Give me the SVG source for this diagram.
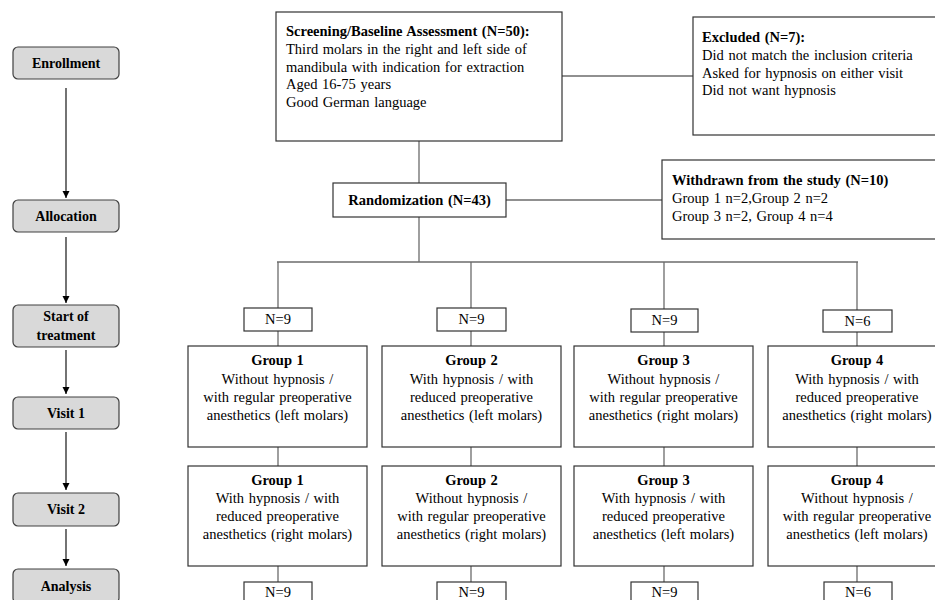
<svg xmlns="http://www.w3.org/2000/svg" width="935" height="600" viewBox="0 0 935 600">
<defs>
<marker id="arr" markerWidth="8" markerHeight="8" refX="7" refY="4" orient="auto" markerUnits="userSpaceOnUse">
<path d="M0,0.5 L7,4 L0,7.5 Z" fill="#000"/>
</marker>
<style>
text{font-family:"Liberation Serif","Times New Roman",serif;font-size:14.5px;word-spacing:1px;fill:#000}
.b{font-weight:bold}
.c{text-anchor:middle}
.stage rect{fill:#d9d9d9;stroke:#404040;stroke-width:1.2}
.stage text{font-weight:bold;font-size:14px;word-spacing:0;text-anchor:middle}
.box{fill:#fff;stroke:#333;stroke-width:1.2}
.con line{stroke:#6b6b6b;stroke-width:1.3}
.arw line{stroke:#000;stroke-width:1.1}
</style>
</defs>
<rect width="935" height="600" fill="#fff"/>

<g id="connectors">
<g class="arw">
<line x1="66" y1="88" x2="66" y2="198" marker-end="url(#arr)"/>
<line x1="66" y1="237" x2="66" y2="303" marker-end="url(#arr)"/>
<line x1="66" y1="350" x2="66" y2="394" marker-end="url(#arr)"/>
<line x1="66" y1="432" x2="66" y2="490" marker-end="url(#arr)"/>
<line x1="66" y1="529" x2="66" y2="566" marker-end="url(#arr)"/>
</g>
<g class="con">
<line x1="562" y1="76" x2="693" y2="76"/>
<line x1="419" y1="141" x2="419" y2="183"/>
<line x1="506" y1="200" x2="662" y2="200"/>
<line x1="419" y1="217" x2="419" y2="262"/>
<line x1="277" y1="262" x2="858" y2="262"/>
<line x1="278" y1="262" x2="278" y2="308"/>
<line x1="471" y1="262" x2="471" y2="308"/>
<line x1="664" y1="262" x2="664" y2="309"/>
<line x1="857" y1="262" x2="857" y2="310"/>
<line x1="278" y1="331" x2="278" y2="346"/>
<line x1="471" y1="331" x2="471" y2="346"/>
<line x1="664" y1="332" x2="664" y2="346"/>
<line x1="857" y1="332" x2="857" y2="346"/>
<line x1="278" y1="447" x2="278" y2="466"/>
<line x1="471" y1="447" x2="471" y2="466"/>
<line x1="664" y1="447" x2="664" y2="466"/>
<line x1="857" y1="447" x2="857" y2="466"/>
<line x1="278" y1="566" x2="278" y2="582"/>
<line x1="471" y1="566" x2="471" y2="582"/>
<line x1="664" y1="566" x2="664" y2="582"/>
<line x1="857" y1="566" x2="857" y2="582"/>
</g>
</g>

<g id="enrollment" class="stage"><rect x="13" y="47" width="106" height="32" rx="5"/><text x="66" y="68">Enrollment</text></g>
<g id="allocation" class="stage"><rect x="13" y="200" width="106" height="32" rx="5"/><text x="66" y="221">Allocation</text></g>
<g id="start" class="stage"><rect x="13" y="305" width="106" height="42" rx="5"/><text x="66" y="321">Start of</text><text x="66" y="340">treatment</text></g>
<g id="visit1" class="stage"><rect x="13" y="397" width="106" height="32" rx="5"/><text x="66" y="418">Visit 1</text></g>
<g id="visit2" class="stage"><rect x="13" y="493" width="106" height="33" rx="5"/><text x="66" y="514">Visit 2</text></g>
<g id="analysis" class="stage"><rect x="13" y="569" width="106" height="34" rx="5"/><text x="66" y="591">Analysis</text></g>

<g id="screening">
<rect class="box" x="276" y="12" width="286" height="129"/>
<text x="286" y="36" class="b">Screening/Baseline Assessment (N=50):</text>
<text x="286" y="54">Third molars in the right and left side of</text>
<text x="286" y="72">mandibula with indication for extraction</text>
<text x="286" y="89">Aged 16-75 years</text>
<text x="286" y="107">Good German language</text>
</g>

<g id="excluded">
<rect class="box" x="693" y="17" width="250" height="118"/>
<text x="702" y="42" class="b">Excluded (N=7):</text>
<text x="702" y="60">Did not match the inclusion criteria</text>
<text x="702" y="78">Asked for hypnosis on either visit</text>
<text x="702" y="95">Did not want hypnosis</text>
</g>

<g id="randomization">
<rect class="box" x="333" y="183" width="173" height="34"/>
<text x="419.5" y="205" class="b c">Randomization (N=43)</text>
</g>

<g id="withdrawn">
<rect class="box" x="662" y="160" width="280" height="79"/>
<text x="672" y="185" class="b">Withdrawn from the study (N=10)</text>
<text x="672" y="203">Group 1 n=2,Group 2 n=2</text>
<text x="672" y="221">Group 3 n=2, Group 4 n=4</text>
</g>

<g id="n1top"><rect class="box" x="244" y="308" width="68" height="23"/><text x="278" y="324" class="c">N=9</text></g>
<g id="n2top"><rect class="box" x="437" y="308" width="69" height="23"/><text x="471.5" y="324" class="c">N=9</text></g>
<g id="n3top"><rect class="box" x="631" y="309" width="67" height="23"/><text x="664.5" y="325" class="c">N=9</text></g>
<g id="n4top"><rect class="box" x="823" y="310" width="69" height="22"/><text x="857.5" y="326" class="c">N=6</text></g>

<g id="g1v1">
<rect class="box" x="188" y="346" width="179" height="101"/>
<text x="277.5" y="365" class="b c">Group 1</text>
<text x="277.5" y="384" class="c">Without hypnosis /</text>
<text x="277.5" y="402" class="c">with regular preoperative</text>
<text x="277.5" y="420" class="c">anesthetics (left molars)</text>
</g>
<g id="g2v1">
<rect class="box" x="382" y="346" width="179" height="101"/>
<text x="471.5" y="365" class="b c">Group 2</text>
<text x="471.5" y="384" class="c">With hypnosis / with</text>
<text x="471.5" y="402" class="c">reduced preoperative</text>
<text x="471.5" y="420" class="c">anesthetics (left molars)</text>
</g>
<g id="g3v1">
<rect class="box" x="574" y="346" width="179" height="101"/>
<text x="663.5" y="365" class="b c">Group 3</text>
<text x="663.5" y="384" class="c">Without hypnosis /</text>
<text x="663.5" y="402" class="c">with regular preoperative</text>
<text x="663.5" y="420" class="c">anesthetics (right molars)</text>
</g>
<g id="g4v1">
<rect class="box" x="768" y="346" width="180" height="101"/>
<text x="857" y="365" class="b c">Group 4</text>
<text x="857" y="384" class="c">With hypnosis / with</text>
<text x="857" y="402" class="c">reduced preoperative</text>
<text x="857" y="420" class="c">anesthetics (right molars)</text>
</g>

<g id="g1v2">
<rect class="box" x="188" y="466" width="179" height="100"/>
<text x="277.5" y="485" class="b c">Group 1</text>
<text x="277.5" y="503" class="c">With hypnosis / with</text>
<text x="277.5" y="521" class="c">reduced preoperative</text>
<text x="277.5" y="539" class="c">anesthetics (right molars)</text>
</g>
<g id="g2v2">
<rect class="box" x="382" y="466" width="179" height="100"/>
<text x="471.5" y="485" class="b c">Group 2</text>
<text x="471.5" y="503" class="c">Without hypnosis /</text>
<text x="471.5" y="521" class="c">with regular preoperative</text>
<text x="471.5" y="539" class="c">anesthetics (right molars)</text>
</g>
<g id="g3v2">
<rect class="box" x="574" y="466" width="179" height="100"/>
<text x="663.5" y="485" class="b c">Group 3</text>
<text x="663.5" y="503" class="c">With hypnosis / with</text>
<text x="663.5" y="521" class="c">reduced preoperative</text>
<text x="663.5" y="539" class="c">anesthetics (left molars)</text>
</g>
<g id="g4v2">
<rect class="box" x="768" y="466" width="180" height="100"/>
<text x="857" y="485" class="b c">Group 4</text>
<text x="857" y="503" class="c">Without hypnosis /</text>
<text x="857" y="521" class="c">with regular preoperative</text>
<text x="857" y="539" class="c">anesthetics (left molars)</text>
</g>

<g id="n1bot"><rect class="box" x="244" y="582" width="68" height="25"/><text x="278" y="597" class="c">N=9</text></g>
<g id="n2bot"><rect class="box" x="437" y="582" width="69" height="25"/><text x="471.5" y="597" class="c">N=9</text></g>
<g id="n3bot"><rect class="box" x="631" y="582" width="67" height="25"/><text x="664.5" y="597" class="c">N=9</text></g>
<g id="n4bot"><rect class="box" x="824" y="582" width="68" height="25"/><text x="858" y="597" class="c">N=6</text></g>
</svg>
